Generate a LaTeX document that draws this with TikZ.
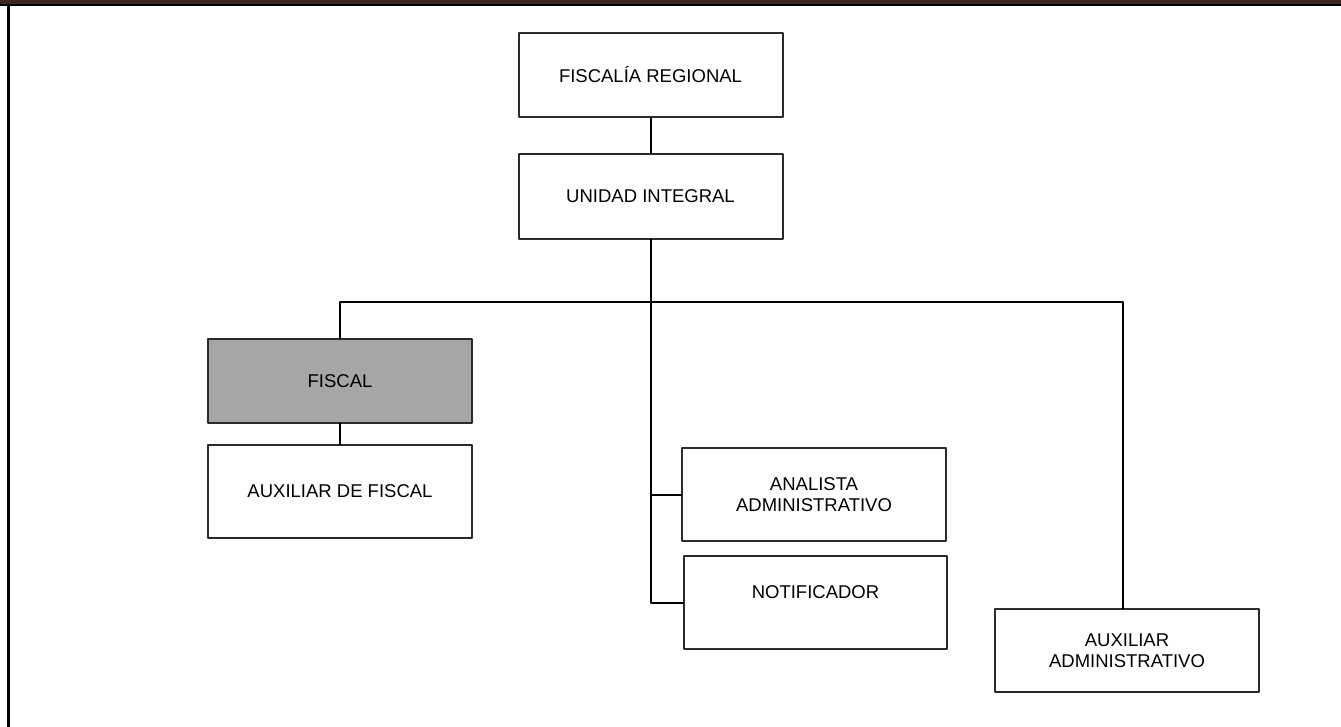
\documentclass[tikz,border=0pt]{standalone}
\usepackage{fontspec}
\setmainfont{Liberation Sans}
\usepackage{color}
\definecolor{topbrown}{HTML}{3D261E}
\definecolor{boxgray}{HTML}{A6A6A6}
\definecolor{edgegray}{HTML}{2B2B2B}

\begin{document}
\begin{tikzpicture}[line cap=round,line join=round,x=1pt,y=-1pt,
    cargo/.style={draw=edgegray,line width=2pt,fill=white,minimum width=264pt,
      align=center,font=\fontsize{18.5}{21}\selectfont,inner sep=0pt},
    enlace/.style={draw=black,line width=2pt,line cap=rect}]
    \useasboundingbox (0,0) rectangle (1341,727);
    % marco de la hoja
    \fill[topbrown] (0,0) rectangle (1341,4.5);
    \fill[black] (0,4.5) rectangle (1341,6.5);
    \fill[black] (7,6.5) rectangle (9.5,727);
    % cargos
    \node[cargo,minimum height=84pt] (freg) at (650.5,75) {FISCALÍA REGIONAL};
    \node[cargo,minimum height=85pt] (unid) at (650.5,196.5) {UNIDAD INTEGRAL};
    \node[cargo,minimum height=84pt,fill=boxgray] (fiscal) at (340,381) {FISCAL};
    \node[cargo,minimum height=93pt] (auxf) at (340,491.5) {AUXILIAR DE FISCAL};
    \node[cargo,minimum height=93pt] (analista) at (814,494.5) {ANALISTA\\ADMINISTRATIVO};
    \node[cargo,minimum height=93pt,minimum width=263pt] (notif) at (815.5,602.5) {NOTIFICADOR\\~};
    \node[cargo,minimum height=83pt] (auxadm) at (1127,650.5) {AUXILIAR\\ADMINISTRATIVO};
    \coordinate (bus) at (650,302);
    % lineas
    \draw[enlace] (freg) -- (unid);
    \draw[enlace] (unid.south) |- (notif.west);
    \draw[enlace] (unid.south |- analista.west) -- (analista.west);
    \draw[enlace] (fiscal.north) |- (bus) -| ([xshift=-4pt]auxadm.north);
    \draw[enlace] (fiscal) -- (auxf);
\end{tikzpicture}
\end{document}
